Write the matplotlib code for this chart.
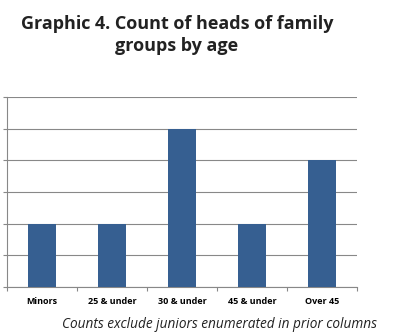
import matplotlib
matplotlib.use("Agg")
import matplotlib.pyplot as plt
import numpy as np

categories = ["Minors", "25 & under", "30 & under", "45 & under", "Over 45"]
counts = [2, 2, 5, 2, 4]

W, H = 393, 333
fig = plt.figure(figsize=(W / 100, H / 100), dpi=100)
ax = fig.add_axes([7 / W, 1 - 287 / H, 350 / W, 190 / H])

xs = np.arange(len(categories))
ax.bar(xs, counts, width=0.4, color="#365F91", zorder=3)

ax.set_xlim(-0.5, len(categories) - 0.5)
ax.set_ylim(0, 6)
ax.set_yticks(np.arange(0, 7, 1))
ax.set_yticklabels([])
ax.grid(axis="y", color="#888888", linewidth=0.8, zorder=0)

ax.set_xticks(np.arange(-0.5, len(categories), 1))
ax.set_xticklabels([])
ax.set_xticks(xs, minor=True)
ax.set_xticklabels(categories, minor=True, fontsize=6.5, fontweight="bold",
                   family="Open Sans")
ax.tick_params(axis="x", which="minor", length=0, pad=7)
ax.tick_params(axis="x", which="major", length=3, color="#888888")
ax.tick_params(axis="y", length=3, color="#888888")

for s in ["top", "right"]:
    ax.spines[s].set_visible(False)
ax.spines["left"].set_color("#888888")
ax.spines["bottom"].set_color("#888888")

fig.text(177 / W, 1 - 35 / H, "Graphic 4. Count of heads of family\ngroups by age",
         ha="center", va="center", fontsize=13, fontweight="bold",
         family="Open Sans", linespacing=1.3, color="#222222")
fig.text(219 / W, 1 - 325 / H, "Counts exclude juniors enumerated in prior columns",
         ha="center", va="center", fontsize=9.8, style="italic", family="Open Sans",
         color="#222222")

fig.savefig("out.png", dpi=100)
